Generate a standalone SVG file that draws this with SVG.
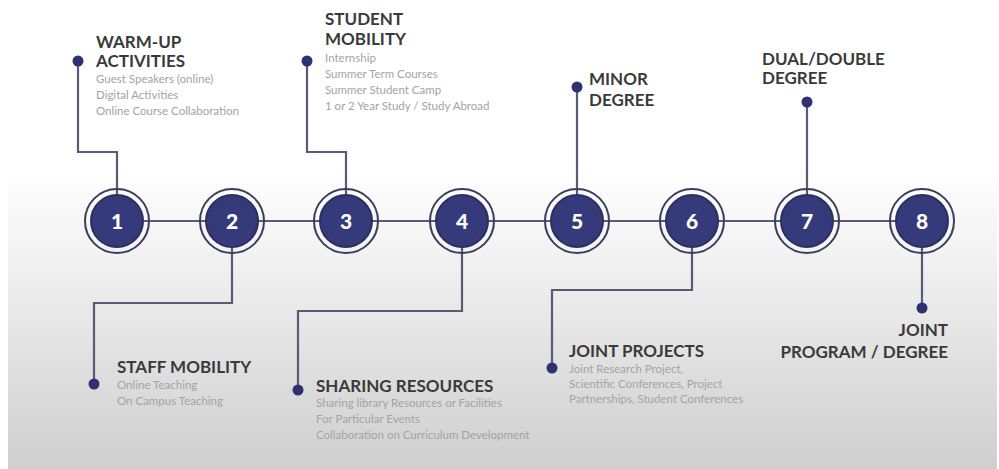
<svg xmlns="http://www.w3.org/2000/svg" width="999" height="469" viewBox="0 0 999 469">
  <defs>
    <linearGradient id="panel" gradientUnits="userSpaceOnUse" x1="0" y1="0" x2="0" y2="469">
      <stop offset="0" stop-color="#ffffff"/>
      <stop offset="0.36" stop-color="#ffffff"/>
      <stop offset="0.53" stop-color="#f3f3f3"/>
      <stop offset="0.70" stop-color="#e6e6e6"/>
      <stop offset="0.85" stop-color="#dadada"/>
      <stop offset="1" stop-color="#cfcfcf"/>
    </linearGradient>
    <style>
      .link { fill: none; stroke: #5a5a74; stroke-width: 2.2; }
      .ring { fill: none; stroke: #3b3d5e; stroke-width: 2; }
      .core { fill: #343a7a; stroke: #2b2f62; stroke-width: 2; }
      .num { fill: #ffffff; font-family: Lato, "DejaVu Sans", sans-serif; font-weight: 900; font-size: 21px; text-anchor: middle; }
      .dot { fill: #2f3270; }
      .title { fill: #3a3a3a; font-family: Lato, "Liberation Sans", sans-serif; font-weight: 700; font-size: 17px; }
      .sub { fill: #a3a3a3; font-family: Lato, "Liberation Sans", sans-serif; font-size: 11.5px; }
    </style>
  </defs>

  <rect x="0" y="0" width="999" height="469" fill="#ffffff"/>
  <rect x="8" y="0" width="989" height="469" fill="url(#panel)"/>

  <!-- connectors: main axis and elbow leaders to each label dot -->
  <g id="connectors">
    <line class="link" x1="117" y1="221" x2="922" y2="221"/>
    <polyline class="link" points="78,61 78,152 117,152 117,195"/>
    <polyline class="link" points="232,247 232,303 94,303 94,384"/>
    <polyline class="link" points="307,61 307,152 346,152 346,195"/>
    <polyline class="link" points="462,247 462,311 298,311 298,390"/>
    <polyline class="link" points="577,87 577,195"/>
    <polyline class="link" points="692,247 692,290 552,290 552,368"/>
    <polyline class="link" points="807,102 807,195"/>
    <polyline class="link" points="922,247 922,308"/>
  </g>

  <!-- step 1 -->
  <g id="step1">
    <circle class="ring" cx="117" cy="221" r="32"/>
    <circle class="core" cx="117" cy="221" r="26"/>
    <text class="num" x="117" y="229">1</text>
    <circle class="dot" cx="78" cy="61" r="5.5"/>
    <text class="title" x="96" y="48">WARM-UP</text>
    <text class="title" x="96" y="67">ACTIVITIES</text>
    <text class="sub" x="96" y="83">Guest Speakers (online)</text>
    <text class="sub" x="96" y="99">Digital Activities</text>
    <text class="sub" x="96" y="115">Online Course Collaboration</text>
  </g>

  <!-- step 2 -->
  <g id="step2">
    <circle class="ring" cx="232" cy="221" r="32"/>
    <circle class="core" cx="232" cy="221" r="26"/>
    <text class="num" x="232" y="229">2</text>
    <circle class="dot" cx="94" cy="384" r="5.5"/>
    <text class="title" x="117" y="373">STAFF MOBILITY</text>
    <text class="sub" x="117" y="389">Online Teaching</text>
    <text class="sub" x="117" y="405">On Campus Teaching</text>
  </g>

  <!-- step 3 -->
  <g id="step3">
    <circle class="ring" cx="346" cy="221" r="32"/>
    <circle class="core" cx="346" cy="221" r="26"/>
    <text class="num" x="346" y="229">3</text>
    <circle class="dot" cx="307" cy="61" r="5.5"/>
    <text class="title" x="325" y="25">STUDENT</text>
    <text class="title" x="325" y="45">MOBILITY</text>
    <text class="sub" x="325" y="62">Internship</text>
    <text class="sub" x="325" y="78">Summer Term Courses</text>
    <text class="sub" x="325" y="94">Summer Student Camp</text>
    <text class="sub" x="325" y="110">1 or 2 Year Study / Study Abroad</text>
  </g>

  <!-- step 4 -->
  <g id="step4">
    <circle class="ring" cx="462" cy="221" r="32"/>
    <circle class="core" cx="462" cy="221" r="26"/>
    <text class="num" x="462" y="229">4</text>
    <circle class="dot" cx="298" cy="390" r="5.5"/>
    <text class="title" x="316" y="392">SHARING RESOURCES</text>
    <text class="sub" x="316" y="407">Sharing library Resources or Facilities</text>
    <text class="sub" x="316" y="423">For Particular Events</text>
    <text class="sub" x="316" y="439">Collaboration on Curriculum Development</text>
  </g>

  <!-- step 5 -->
  <g id="step5">
    <circle class="ring" cx="577" cy="221" r="32"/>
    <circle class="core" cx="577" cy="221" r="26"/>
    <text class="num" x="577" y="229">5</text>
    <circle class="dot" cx="577" cy="87" r="5.5"/>
    <text class="title" x="589" y="85">MINOR</text>
    <text class="title" x="589" y="106">DEGREE</text>
  </g>

  <!-- step 6 -->
  <g id="step6">
    <circle class="ring" cx="692" cy="221" r="32"/>
    <circle class="core" cx="692" cy="221" r="26"/>
    <text class="num" x="692" y="229">6</text>
    <circle class="dot" cx="552" cy="368" r="5.5"/>
    <text class="title" x="569" y="357">JOINT PROJECTS</text>
    <text class="sub" x="569" y="373">Joint Research Project,</text>
    <text class="sub" x="569" y="388">Scientific Conferences, Project</text>
    <text class="sub" x="569" y="403">Partnerships, Student Conferences</text>
  </g>

  <!-- step 7 -->
  <g id="step7">
    <circle class="ring" cx="807" cy="221" r="32"/>
    <circle class="core" cx="807" cy="221" r="26"/>
    <text class="num" x="807" y="229">7</text>
    <circle class="dot" cx="807" cy="102" r="5.5"/>
    <text class="title" x="762" y="65">DUAL/DOUBLE</text>
    <text class="title" x="762" y="84">DEGREE</text>
  </g>

  <!-- step 8 -->
  <g id="step8">
    <circle class="ring" cx="922" cy="221" r="32"/>
    <circle class="core" cx="922" cy="221" r="26"/>
    <text class="num" x="922" y="229">8</text>
    <circle class="dot" cx="922" cy="308" r="5.5"/>
    <text class="title" x="948" y="336" text-anchor="end">JOINT</text>
    <text class="title" x="948" y="358" text-anchor="end">PROGRAM / DEGREE</text>
  </g>
</svg>
